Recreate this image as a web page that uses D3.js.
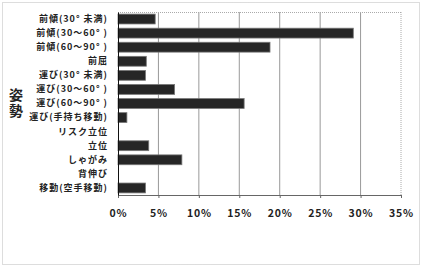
<!DOCTYPE html>
<html><head><meta charset="utf-8">
<script src="https://cdn.jsdelivr.net/npm/d3@7"></script>
<style>body{margin:0;background:#fff}</style>
</head><body>
<svg id="c" width="423" height="269"></svg>
<script>
const categories = ["前傾(30° 未満)","前傾(30～60° )","前傾(60～90° )","前屈","運び(30° 未満)","運び(30～60° )","運び(60～90° )","運び(手持ち移動)","リスク立位","立位","しゃがみ","背伸び","移動(空手移動)"];
const values = [4.6, 29.1, 18.8, 3.5, 3.4, 7.0, 15.6, 1.1, 0, 3.8, 7.9, 0, 3.4];
const tickValues = [0,5,10,15,20,25,30,35];
const axisTitle = "姿勢";

const svg = d3.select("#c");
const font = "'Noto Sans CJK JP', sans-serif";
svg.append("rect").attr("x",2.5).attr("y",2.5).attr("width",417).attr("height",262)
  .attr("fill","none").attr("stroke","#bbb").attr("stroke-dasharray","1,1");

const L=118, R=401, T=12, B=195;
const x = d3.scaleLinear().domain([0,35]).range([L,R]);
const y = d3.scaleBand().domain(categories).range([T,B]).paddingInner(0.3).paddingOuter(0.15);

// grid
svg.append("g").selectAll("line").data(tickValues.slice(1)).join("line")
  .attr("x1",d=>x(d)).attr("x2",d=>x(d)).attr("y1",T).attr("y2",B)
  .attr("stroke",(d,i)=>d===35?"#aaa":"#999").attr("stroke-width",1)
  .attr("stroke-dasharray",d=>d===35?"1,1":null);
svg.append("line").attr("x1",L).attr("x2",R).attr("y1",T+0.5).attr("y2",T+0.5)
  .attr("stroke","#aaa").attr("stroke-dasharray","1,1");

// bars
svg.append("g").selectAll("rect").data(values).join("rect")
  .attr("x",x(0)).attr("y",(d,i)=>y(categories[i]))
  .attr("width",d=>Math.max(0,x(d)-x(0))).attr("height",y.bandwidth())
  .attr("fill","#262626").attr("stroke","#777").attr("stroke-width",0.8)
  .style("display",d=>d>0?null:"none");

// axes
const xa = svg.append("g").attr("transform",`translate(0,${B})`)
  .call(d3.axisBottom(x).tickValues(tickValues).tickSize(3).tickFormat(d=>d+"%"));
xa.select(".domain").attr("stroke","#666");
xa.selectAll(".tick line").attr("stroke","#666");
xa.selectAll("text").attr("font-family",font).attr("font-size",10.5).attr("font-weight","bold")
  .attr("fill","#222").attr("dy","1.5em").attr("letter-spacing","0.8px");

const ya = svg.append("g").attr("transform",`translate(${L},0)`)
  .call(d3.axisLeft(y).tickSize(0).tickPadding(10));
ya.select(".domain").attr("stroke","#111");
ya.selectAll("text").attr("font-family",font).attr("font-size",9).attr("font-weight","bold")
  .attr("fill","#222").attr("letter-spacing","1px");

// axis title (vertical writing mode)
svg.append("text").attr("x",16).attr("y",88)
  .style("writing-mode","vertical-rl").style("text-orientation","upright")
  .attr("font-family",font).attr("font-size",14).attr("font-weight","bold").attr("fill","#222")
  .attr("letter-spacing","2px").text(axisTitle);
</script>
</body></html>
